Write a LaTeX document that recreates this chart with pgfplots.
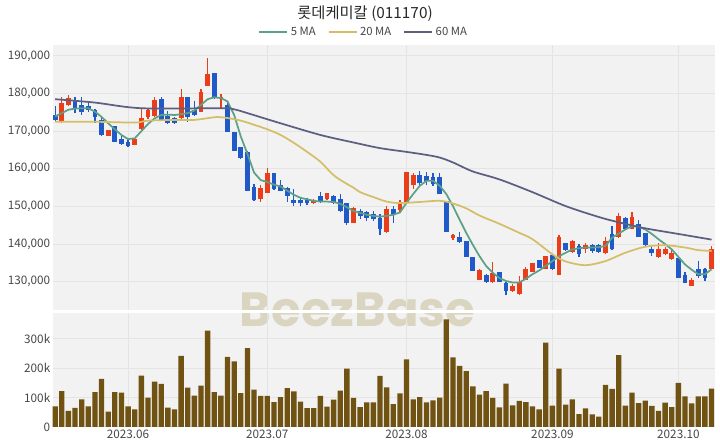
\documentclass[border=0pt]{standalone}
\usepackage{fontspec}
\setmainfont{Noto Sans CJK KR}
\newfontfamily\wmfont{Poppins}
\usepackage{pgfplots}
\usepackage{pgfplotstable}
\pgfplotsset{compat=1.18}

\definecolor{upred}{RGB}{234,62,26}
\definecolor{downblue}{RGB}{32,90,200}
\definecolor{ma5}{RGB}{92,160,134}
\definecolor{ma20}{RGB}{212,190,104}
\definecolor{ma60}{RGB}{92,96,128}
\definecolor{volcol}{RGB}{112,83,18}
\definecolor{panelbg}{RGB}{242,242,242}
\definecolor{gridc}{RGB}{228,228,228}
\definecolor{tickc}{RGB}{70,70,70}
\definecolor{wmc}{RGB}{218,213,193}

% daily candles, x = trading day index (2023-05-16 = 0)
\pgfplotstableread{
x o h l c
1 172500 179200 172300 177400
2 177000 179600 176700 178700
8 168600 170300 168600 170300
12 166400 168000 166300 167900
13 170500 175800 170300 173400
14 173900 175800 173200 175700
15 174100 179200 173900 178300
19 173400 181100 173000 179200
22 175200 181100 175200 180500
23 182000 189400 181900 185200
25 178500 180000 176100 179200
31 151900 155600 151200 155000
32 153700 160100 153500 159000
39 151000 152100 150600 151700
41 151900 153700 151700 153500
45 145700 149900 145500 149700
50 143200 150100 143000 149400
52 149100 151700 148400 150800
53 150800 159200 150600 159200
54 155600 158800 154700 158300
60 141500 142600 141100 142300
64 130600 133300 130400 133100
66 129900 135200 129800 132400
69 127500 129300 127300 128900
70 126700 131500 126400 129900
71 130600 134000 130500 133300
72 132600 135000 132600 134900
74 133500 136800 133500 136800
76 131700 142300 131700 142000
78 137900 141100 137700 140800
80 138600 140200 137600 139700
83 137600 142000 137300 140800
85 142000 148200 141700 147500
87 144100 148400 143900 147300
91 136700 140200 136400 138600
92 137300 139300 137000 138600
93 136100 138400 135900 137700
96 128900 131100 128900 130600
99 133500 139500 133300 138600
}\up

\pgfplotstableread{
x o h l c
0 174300 176700 172800 173000
3 177900 179200 174800 176100
4 177000 179200 174300 175200
5 176700 178100 175200 175500
6 175700 175800 172300 173900
7 173000 173400 168700 169000
9 171400 171400 167000 167200
10 167900 169000 166300 166500
11 167200 168100 165900 166100
16 178500 179000 172800 173000
17 174100 175400 171900 172300
18 173600 173900 171900 172100
20 179200 179200 172500 173900
21 175700 177900 174100 174300
24 185400 185400 178500 178800
26 177000 177500 169900 169900
27 169900 169900 164800 164800
28 165700 165900 162500 162800
29 164500 164800 154000 154200
30 155200 156000 151500 151800
33 158800 159000 154400 154600
34 155600 157000 154000 154100
35 155000 155200 151200 152800
36 151700 154600 150100 150800
37 151700 152300 150100 150800
38 151900 152300 150300 150800
40 152800 153900 151000 151200
42 152800 153000 150600 151000
43 152100 153200 148400 148800
44 151000 151000 145000 145700
46 148800 149300 146600 147500
47 148500 148800 146200 147000
48 147900 148800 146200 146600
49 147000 147900 142300 143900
51 149400 150000 145500 147900
55 158300 159400 155600 156200
56 158100 159200 155600 156800
57 157700 158800 155500 155900
58 157700 159000 153200 153200
59 151500 151500 143200 143200
61 142000 143200 140400 140600
62 140800 140800 136700 136700
63 136700 136700 132900 132900
65 131700 132000 129800 129900
67 132600 132600 129900 129900
68 129800 130000 126400 127500
73 135800 135800 133700 133700
75 137000 137300 133100 133300
77 140200 140400 138200 138400
79 139500 140000 136700 137300
81 139700 140000 137700 138200
82 139700 140000 137700 137900
84 142600 144800 138400 138600
86 147000 147300 143900 144100
88 145300 146400 142000 142000
89 142900 143000 139500 139700
90 138800 139300 136800 137600
94 136400 136400 131100 131100
95 131700 132600 129600 129800
97 133300 135500 131100 131500
98 133300 133700 130200 131100
}\down

\pgfplotstableread{
x v
0 70500
1 122000
2 55000
3 65000
4 94000
5 70500
6 119000
7 164000
8 52000
9 119000
10 117000
11 70000
12 60000
13 175000
14 100000
15 154000
16 147000
17 66000
18 60000
19 242000
20 134000
21 107000
22 141000
23 328000
24 119000
25 107000
26 239000
27 223000
28 115000
29 268000
30 127000
31 106000
32 106000
33 85000
34 102000
35 132000
36 121000
37 86000
38 64000
39 64000
40 106000
41 69000
42 93000
43 124000
44 199000
45 99000
46 68000
47 84000
48 84000
49 174000
50 135000
51 78000
52 114000
53 230000
54 94000
55 102000
56 84000
57 91000
58 100000
59 366000
60 237000
61 208000
62 190000
63 138000
64 110000
65 122000
66 99000
67 67000
68 148000
69 74000
70 89000
71 85000
72 70000
73 60000
74 287000
75 73000
76 199000
77 76000
78 94000
79 44000
80 63000
81 43000
82 35000
83 143000
84 130000
85 245000
86 73000
87 117000
88 81000
89 90000
90 72000
91 55000
92 83000
93 68000
94 150000
95 104000
96 80000
97 104000
98 104000
99 131000
}\vol

\begin{document}
\begin{tikzpicture}
\path[use as bounding box] (0pt,0pt) rectangle (540pt,336pt);
\fill[panelbg] (39.375pt,103.5pt) rectangle (535.875pt,302.25pt);
\fill[panelbg] (39.375pt,15.75pt) rectangle (535.875pt,101.25pt);
\node[anchor=base, text=wmc, inner sep=0] at (268.1pt,90.75pt)
  {\wmfont\bfseries\fontsize{36}{40}\selectfont BeezBase};
\fill[white] (39.375pt,101.25pt) rectangle (535.875pt,103.5pt);

\node[text={rgb,255:red,40;green,40;blue,40}] at (273.75pt,325.5pt)
  {\fontsize{11.5}{13}\selectfont 롯데케미칼 (011170)};

\pgfplotsset{
  panel/.style={
    scale only axis, width=496.5pt,
    xmin=-0.4, xmax=99.45,
    axis line style={draw=none},
    major tick length=0pt,
    xmajorgrids, ymajorgrids,
    grid style={gridc, line width=0.75pt},
    xtick={11,32,53,75,94},
    tick label style={font=\fontsize{8.8}{10}\selectfont, text=tickc},
    yticklabel style={inner sep=1.5pt},
    /pgf/number format/assume math mode=true,
    scaled y ticks=false,
  },
  candle/.style 2 args={forget plot, draw=none, mark=none,
    error bars/.cd, y dir=plus, y explicit, error mark=none,
    error bar style={draw=#1, line width=#2}},
}

\begin{axis}[panel,
  at={(39.375pt,103.5pt)}, anchor=south west, height=198.75pt,
  ymin=122500, ymax=192900,
  ytick={130000,140000,150000,160000,170000,180000,190000},
  yticklabel style={/pgf/number format/.cd, fixed, 1000 sep={,}},
  xticklabels={},
  legend style={at={(0.4705,1.049)}, anchor=center, draw=none, fill=none,
    legend columns=3, font=\fontsize{8.5}{10}\selectfont, text=tickc,
    /tikz/every even column/.append style={column sep=7pt}},
  legend image code/.code={\draw[#1] (0pt,0pt) -- (21pt,0pt);},
]
% wicks
\addplot[candle={upred}{0.9pt}]
  table[x=x, y=l, y error expr=\thisrow{h}-\thisrow{l}] {\up};
\addplot[candle={downblue}{0.9pt}]
  table[x=x, y=l, y error expr=\thisrow{h}-\thisrow{l}] {\down};
% bodies
\addplot[candle={upred}{3.6pt}]
  table[x=x, y=o, y error expr=\thisrow{c}-\thisrow{o}] {\up};
\addplot[candle={downblue}{3.6pt}]
  table[x=x, y=c, y error expr=\thisrow{o}-\thisrow{c}] {\down};

% moving averages
\addplot[ma5, line width=1.3pt, mark=none] coordinates {
(0,173900) (1,174800) (2,175700) (3,176000) (4,176100) (5,176100) (6,175200)
(7,173800) (8,172100) (9,170500) (10,169000) (11,167900) (12,168100) (13,170000)
(14,171900) (15,173400) (16,174300) (17,174400) (18,174300) (19,174500) (20,174800)
(21,175500) (22,177000) (23,178500) (24,179000) (25,178800) (26,177900) (27,174300)
(28,168600) (29,164000) (30,159000) (31,157000) (32,156500) (33,155800) (34,155300)
(35,154200) (36,153100) (37,152300) (38,151900) (39,151500) (40,151300) (41,151300)
(42,151200) (43,150700) (44,149800) (45,148800) (46,148300) (47,147800) (48,147500)
(49,147300) (50,147500) (51,147800) (52,148400) (53,151000) (54,153300) (55,155500)
(56,156800) (57,156800) (58,155500) (59,153300) (60,150100) (61,146500) (62,143000)
(63,139800) (64,136800) (65,134200) (66,132400) (67,131000) (68,130200) (69,129800)
(70,129800) (71,130800) (72,132000) (73,133000) (74,134200) (75,135500) (76,136800)
(77,137700) (78,138600) (79,138900) (80,139100) (81,139100) (82,139200) (83,139500)
(84,141700) (85,142800) (86,143900) (87,144800) (88,144600) (89,143900) (90,142700)
(91,141300) (92,140000) (93,138600) (94,136600) (95,134600) (96,133200) (97,132000)
(98,132000) (99,133300)
};
\addlegendentry{5 MA}
\addplot[ma20, line width=1.3pt, mark=none, smooth] coordinates {
(0,172500) (6,172500) (12,172300) (14,172800) (18,173000) (21,173000) (24,173700)
(25,173700) (26,173500) (28,172800) (30,171700) (32,170500) (34,169000) (36,166900)
(38,164500) (40,161900) (42,158300) (44,156000) (45,155000) (46,153800) (48,152500)
(50,151300) (52,150900) (55,151200) (58,151500) (60,150800) (62,149500) (64,147600)
(67,145400) (70,143000) (72,141300) (75,137300) (77,135400) (80,134400) (83,135500)
(86,137700) (89,139300) (92,139700) (95,139100) (97,138400) (99,138200)
};
\addlegendentry{20 MA}
\addplot[ma60, line width=1.3pt, mark=none, smooth] coordinates {
(0,178500) (6,177600) (13,176100) (25,176100) (27,175800) (29,174800) (34,172100)
(40,169000) (45,167000) (49,165500) (53,164500) (56,163700) (58,163000) (60,161700)
(63,159300) (67,157200) (72,153800) (77,150100) (82,147200) (85,145800) (89,144200)
(94,142700) (99,141200)
};
\addlegendentry{60 MA}
\end{axis}

\begin{axis}[panel,
  at={(39.375pt,15.75pt)}, anchor=south west, height=85.5pt,
  ymin=0, ymax=388000,
  ytick={0,100000,200000,300000},
  yticklabels={0,100k,200k,300k},
  xticklabels={2023.06,2023.07,2023.08,2023.09,2023.10},
  xticklabel style={inner sep=2pt},
]
\addplot[ybar, bar width=4pt, fill=volcol, draw=none] table[x=x, y=v] {\vol};
\end{axis}
\end{tikzpicture}
\end{document}
